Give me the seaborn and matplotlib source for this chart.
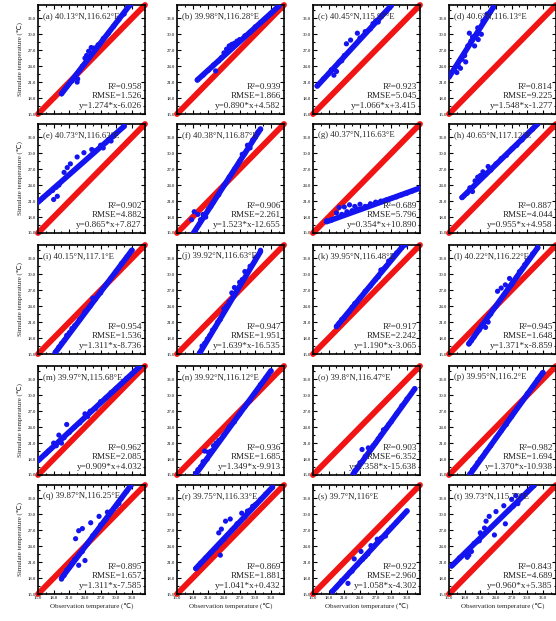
"""Simulated vs observed temperature at 20 sites, 5x4 grid of scatter panels."""

import matplotlib
matplotlib.use("Agg")
import matplotlib.pyplot as plt
import pandas as pd
import seaborn as sns
from matplotlib.ticker import MultipleLocator

# --- panel metadata ------------------------------------------------------
LABELS = list("abcdefghijklmnopqrst")
SITES = ["40.13°N,116.62°E", "39.98°N,116.28°E", "40.45°N,115.97°E", "40.6°N,116.13°E",
         "40.73°N,116.63°E", "40.38°N,116.87°E", "40.37°N,116.63°E", "40.65°N,117.12°E",
         "40.15°N,117.1°E", "39.92°N,116.63°E", "39.95°N,116.48°E", "40.22°N,116.22°E",
         "39.97°N,115.68°E", "39.92°N,116.12°E", "39.8°N,116.47°E", "39.95°N,116.2°E",
         "39.87°N,116.25°E", "39.75°N,116.33°E", "39.7°N,116°E", "39.73°N,115.73°E"]
R2 = [0.958, 0.939, 0.923, 0.814, 0.902, 0.906, 0.689, 0.887, 0.954, 0.947,
      0.917, 0.945, 0.962, 0.936, 0.903, 0.982, 0.895, 0.869, 0.922, 0.843]
RMSE = [1.526, 1.866, 5.045, 9.225, 4.882, 2.261, 5.796, 4.044, 1.536, 1.951,
        2.242, 1.648, 2.085, 1.685, 6.352, 1.694, 1.657, 1.881, 2.960, 4.689]
SLOPE = [1.274, 0.890, 1.066, 1.548, 0.865, 1.523, 0.354, 0.955, 1.311, 1.639,
         1.190, 1.371, 0.909, 1.349, 1.358, 1.370, 1.311, 1.041, 1.058, 0.960]
INTERCEPT = [-6.026, 4.582, 3.415, -1.277, 7.827, -12.655, 10.890, 4.958, -8.736, -16.535,
             -3.065, -8.859, 4.032, -9.913, -15.638, -10.938, -7.585, 0.432, -4.302, 5.385]

a_obs = [19.5, 20.5, 21.5, 22.5, 22.6, 23.0, 23.5, 24.0, 24.3, 24.7, 25.2, 25.8, 26.5, 27.5, 28.5, 29.5, 30.5, 31.5, 32.8]
a_sim = [18.8, 20.1, 21.2, 21.0, 21.6, 23.2, 24.0, 25.5, 26.0, 26.8, 27.5, 27.4, 28.0, 29.2, 30.2, 31.5, 32.8, 33.8, 35.5]
b_obs = [18.9, 20.0, 21.0, 22.0, 22.4, 23.0, 23.5, 24.0, 24.5, 25.0, 25.5, 26.0, 26.5, 27.0, 28.0, 29.0, 30.0, 31.0, 32.0, 33.0, 34.5]
b_sim = [21.4, 22.3, 23.2, 24.2, 23.1, 25.0, 25.6, 26.5, 27.2, 27.8, 28.1, 28.3, 28.7, 29.0, 29.7, 30.4, 31.4, 32.2, 33.0, 33.9, 35.3]
c_obs = [15.8, 17.0, 18.0, 18.5, 19.0, 19.5, 20.0, 20.5, 21.0, 21.4, 22.2, 23.5, 24.0, 25.0, 26.0, 26.5, 27.0, 27.5, 28.0, 28.5, 29.0, 30.0]
c_sim = [20.3, 21.6, 22.6, 23.3, 22.3, 23.0, 24.8, 25.0, 26.0, 28.2, 28.9, 30.2, 29.3, 30.5, 31.0, 32.0, 32.5, 32.3, 33.3, 33.8, 34.2, 35.4]
d_obs = [15.0, 16.0, 16.5, 16.8, 17.2, 17.5, 18.0, 18.2, 18.6, 18.9, 19.2, 19.5, 19.9, 20.3, 20.6, 20.5, 21.2, 21.5, 22.0, 22.3, 22.8, 23.5]
d_sim = [22.0, 23.3, 22.8, 24.0, 23.6, 25.3, 26.0, 24.8, 27.8, 30.2, 28.7, 29.5, 27.8, 29.9, 29.0, 31.2, 30.0, 32.5, 33.0, 33.8, 34.0, 35.0]
e_obs = [15.0, 16.0, 17.0, 17.8, 18.0, 18.5, 18.7, 19.0, 20.0, 20.6, 21.2, 22.5, 23.8, 25.3, 26.0, 27.0, 27.5, 28.0, 28.5, 29.0, 29.5, 30.0, 31.5]
e_sim = [20.8, 21.7, 22.5, 23.0, 21.3, 23.6, 21.9, 24.0, 26.4, 27.3, 28.0, 29.3, 30.1, 30.7, 30.5, 31.5, 31.0, 32.0, 32.5, 32.3, 33.2, 33.7, 35.1]
f_obs = [17.8, 18.3, 18.5, 19.0, 19.5, 20.0, 20.5, 21.0, 21.5, 22.0, 23.0, 24.0, 25.0, 26.0, 27.0, 27.5, 28.0, 28.5, 29.0, 29.5, 30.0, 30.5, 31.0]
f_sim = [17.5, 19.0, 15.3, 18.5, 17.5, 18.5, 18.0, 19.5, 20.0, 20.8, 22.2, 24.0, 25.5, 27.0, 28.5, 29.8, 30.0, 31.5, 31.0, 32.5, 33.0, 34.0, 34.5]
g_obs = [17.6, 18.5, 19.5, 20.0, 20.5, 21.0, 21.5, 22.0, 22.5, 23.0, 23.5, 24.0, 25.0, 26.0, 27.0, 28.0, 29.0, 30.0, 31.0, 32.0, 33.0, 34.0, 35.4]
g_sim = [17.3, 17.4, 18.8, 19.8, 18.5, 19.9, 19.0, 20.3, 19.2, 20.0, 19.5, 20.4, 20.0, 20.5, 20.8, 21.0, 21.2, 21.5, 21.8, 22.2, 22.5, 22.9, 23.4]
h_obs = [17.5, 18.5, 19.0, 19.5, 20.0, 20.5, 21.0, 21.5, 22.0, 22.5, 23.0, 24.0, 25.0, 26.0, 27.0, 28.0, 29.0, 30.0, 31.0, 32.0]
h_sim = [21.7, 22.5, 23.5, 22.8, 24.8, 25.5, 25.8, 26.5, 26.0, 27.5, 26.8, 28.0, 29.0, 29.6, 30.8, 31.5, 32.5, 33.5, 34.5, 35.5]
i_obs = [18.3, 19.0, 19.5, 20.0, 20.5, 21.0, 21.5, 22.0, 23.0, 24.0, 25.0, 25.5, 26.0, 27.0, 28.0, 29.0, 30.0, 31.0, 32.0, 33.0]
i_sim = [15.3, 16.3, 17.0, 17.5, 18.5, 19.0, 19.8, 20.3, 21.5, 23.0, 24.0, 25.5, 25.3, 26.5, 28.0, 29.3, 30.5, 32.0, 33.2, 34.5]
j_obs = [19.3, 19.8, 20.3, 20.8, 21.3, 21.8, 22.3, 22.8, 23.3, 24.0, 24.5, 25.0, 25.5, 26.0, 26.5, 27.0, 27.5, 28.0, 29.0, 30.0, 31.0]
j_sim = [15.2, 16.5, 17.0, 17.8, 18.5, 19.5, 20.0, 21.0, 21.5, 23.5, 24.0, 24.8, 26.5, 27.5, 27.0, 28.5, 29.0, 30.5, 31.5, 33.0, 34.5]
k_obs = [19.5, 20.0, 20.5, 21.0, 21.5, 22.0, 22.5, 23.0, 24.0, 25.0, 26.0, 27.0, 27.5, 28.0, 28.5, 29.0, 29.5, 30.0, 30.5, 31.0, 32.0, 32.8]
k_sim = [20.2, 20.8, 21.5, 21.8, 22.5, 23.0, 23.8, 24.5, 25.5, 26.8, 27.8, 29.0, 29.5, 30.8, 31.0, 31.5, 32.5, 32.8, 33.5, 34.0, 35.0, 35.5]
l_obs = [18.8, 19.3, 19.8, 20.3, 20.8, 21.3, 22.0, 22.5, 23.0, 23.5, 24.0, 24.3, 25.0, 25.8, 26.6, 27.0, 28.0, 28.5, 29.0, 29.5, 30.0, 30.5, 31.0, 32.0]
l_sim = [16.9, 17.5, 18.2, 19.0, 19.5, 20.5, 20.0, 21.0, 22.5, 23.5, 24.0, 26.8, 27.4, 28.0, 29.2, 28.0, 29.5, 30.5, 31.0, 31.8, 32.5, 33.0, 33.8, 35.0]
m_obs = [15.0, 16.5, 17.0, 18.0, 18.5, 19.0, 19.5, 20.0, 20.5, 21.0, 22.0, 23.0, 24.0, 24.5, 25.0, 26.0, 27.0, 28.0, 29.0, 30.0, 31.0, 32.0, 33.0, 34.5]
m_sim = [17.8, 19.0, 19.5, 21.0, 20.5, 22.5, 21.0, 22.0, 24.5, 23.0, 24.0, 24.8, 26.5, 26.0, 27.0, 27.5, 28.8, 29.5, 30.5, 31.3, 32.2, 33.2, 34.0, 35.4]
n_obs = [18.6, 19.0, 19.5, 20.0, 20.3, 20.8, 21.0, 21.5, 22.0, 22.5, 23.0, 24.0, 25.0, 26.0, 27.0, 28.0, 29.0, 30.0, 31.0, 32.0, 33.0]
n_sim = [15.3, 16.0, 16.5, 17.5, 19.5, 18.0, 19.3, 19.5, 20.5, 21.0, 21.5, 22.5, 24.0, 25.0, 26.5, 27.8, 29.0, 30.5, 32.0, 33.2, 34.5]
o_obs = [22.7, 23.0, 23.5, 24.0, 24.4, 24.5, 25.0, 25.6, 26.0, 26.5, 27.0, 27.5, 28.0, 28.5, 29.0, 29.5, 30.0, 31.0, 32.0, 33.0, 34.5]
o_sim = [15.2, 15.8, 16.5, 17.3, 19.8, 17.5, 18.5, 20.1, 19.8, 20.5, 21.0, 21.8, 22.5, 23.5, 23.8, 24.5, 25.0, 26.5, 28.0, 29.3, 31.2]
p_obs = [19.0, 19.5, 20.0, 20.5, 21.0, 21.5, 22.0, 23.0, 24.0, 25.0, 26.0, 27.0, 28.0, 29.0, 30.0, 31.0, 32.0, 33.0]
p_sim = [15.2, 16.0, 16.5, 17.3, 18.0, 18.5, 19.3, 20.5, 22.0, 23.3, 24.5, 26.0, 27.5, 28.8, 30.3, 31.5, 33.0, 34.2]
q_obs = [19.5, 20.0, 20.5, 21.0, 21.5, 22.0, 22.2, 22.8, 22.8, 23.5, 23.5, 24.0, 24.5, 25.1, 25.5, 26.0, 26.7, 27.0, 28.0, 28.3, 29.0, 29.5, 30.0, 30.5, 31.0, 32.0, 32.8]
q_sim = [17.8, 18.5, 19.5, 20.0, 20.8, 21.5, 25.4, 20.4, 26.9, 27.3, 23.0, 21.3, 24.5, 28.4, 26.0, 26.5, 29.6, 28.0, 29.0, 30.4, 30.5, 31.0, 31.5, 32.0, 33.0, 34.3, 35.4]
r_obs = [18.6, 19.5, 20.5, 21.5, 22.5, 23.0, 23.3, 23.5, 24.0, 24.3, 25.2, 25.5, 26.5, 27.4, 28.0, 28.5, 29.0, 29.5, 30.0, 31.0, 32.0, 33.3]
r_sim = [19.8, 20.8, 21.8, 22.8, 23.7, 26.5, 22.3, 27.2, 25.3, 28.7, 29.1, 27.0, 28.2, 30.2, 29.5, 30.6, 30.8, 31.5, 31.8, 32.8, 33.8, 35.1]
s_obs = [18.7, 19.5, 20.5, 21.5, 21.7, 22.0, 22.5, 22.9, 23.5, 24.2, 24.5, 25.0, 25.5, 26.1, 26.5, 27.3, 28.0, 28.9, 29.5, 30.0, 31.0, 32.0, 33.0]
s_sim = [15.5, 16.3, 17.5, 18.3, 17.0, 19.0, 19.3, 21.6, 20.5, 23.0, 21.5, 22.0, 22.5, 24.1, 23.8, 25.3, 25.5, 25.9, 27.0, 27.5, 28.5, 29.5, 30.6]
t_obs = [15.5, 17.0, 18.5, 18.8, 19.3, 19.8, 20.3, 20.8, 21.0, 21.3, 21.8, 22.1, 22.5, 22.7, 23.7, 24.0, 25.5, 25.8, 26.5, 27.0, 27.3, 27.8, 28.2, 29.0, 30.0, 31.3]
t_sim = [20.3, 21.8, 21.9, 22.3, 23.0, 24.5, 24.8, 25.0, 26.5, 26.0, 27.4, 28.7, 27.0, 29.6, 26.1, 30.5, 31.6, 28.2, 30.8, 32.8, 31.5, 33.5, 32.0, 33.5, 34.2, 35.4]

OBS = [a_obs, b_obs, c_obs, d_obs, e_obs, f_obs, g_obs, h_obs, i_obs, j_obs,
       k_obs, l_obs, m_obs, n_obs, o_obs, p_obs, q_obs, r_obs, s_obs, t_obs]
SIM = [a_sim, b_sim, c_sim, d_sim, e_sim, f_sim, g_sim, h_sim, i_sim, j_sim,
       k_sim, l_sim, m_sim, n_sim, o_sim, p_sim, q_sim, r_sim, s_sim, t_sim]

LO, HI = 15.0, 35.5
RED = "#f01414"
BLUE = "#1414f0"

sns.set_style("ticks")
plt.rcParams["font.family"] = ["Liberation Serif", "DejaVu Sans"]

W, H = 556, 621
fig = plt.figure(figsize=(W / 100, H / 100), dpi=100)

col_left = [38, 177, 313, 449]
row_top = [5, 124, 245, 366, 485]
ax_w, ax_h = 107, 109

for k in range(20):
    r, c = divmod(k, 4)
    ax = fig.add_axes([col_left[c] / W, 1 - (row_top[r] + ax_h) / H, ax_w / W, ax_h / H])
    df = pd.DataFrame({"obs": OBS[k], "sim": SIM[k]})

    # 1:1 line
    one = pd.DataFrame({"x": [LO, HI], "y": [LO, HI]})
    sns.lineplot(data=one, x="x", y="y", ax=ax, color=RED, lw=4.2,
                 solid_capstyle="round", clip_on=False, zorder=2)

    # fitted line over the observed range
    x0, x1 = min(OBS[k]), max(OBS[k])
    fit = pd.DataFrame({"x": [x0, x1],
                        "y": [SLOPE[k] * x0 + INTERCEPT[k], SLOPE[k] * x1 + INTERCEPT[k]]})
    sns.lineplot(data=fit, x="x", y="y", ax=ax, color=BLUE, lw=4.0,
                 solid_capstyle="round", zorder=3)
    sns.scatterplot(data=df, x="obs", y="sim", ax=ax, color=BLUE, s=14,
                    edgecolor="none", zorder=4)

    ax.set_xlim(LO, HI)
    ax.set_ylim(LO, HI)
    ax.xaxis.set_major_locator(MultipleLocator(3))
    ax.yaxis.set_major_locator(MultipleLocator(3))
    ax.xaxis.set_minor_locator(MultipleLocator(1.5))
    ax.yaxis.set_minor_locator(MultipleLocator(1.5))
    ax.xaxis.set_major_formatter(lambda v, p: f"{v:.1f}" if v <= 33.5 else "")
    ax.yaxis.set_major_formatter(lambda v, p: f"{v:.1f}" if v <= 33.5 else "")
    ax.tick_params(which="both", direction="in", top=True, right=True,
                   labelsize=3.4, pad=1.5, width=0.8, colors="black")
    ax.tick_params(which="major", length=3)
    ax.tick_params(which="minor", length=1.6)
    for sp in ax.spines.values():
        sp.set_linewidth(1.2)
        sp.set_color("black")

    if r < 4:
        ax.set_xticklabels([])
        ax.set_xlabel("")
    else:
        ax.set_xlabel("Observation temperature (℃)", fontsize=5, labelpad=2)
    if c == 0:
        ax.set_ylabel("Simulate temperature (℃)", fontsize=5, labelpad=3)
    else:
        ax.set_ylabel("")

    ax.text(0.05, 0.90, f"({LABELS[k]}) {SITES[k]}", transform=ax.transAxes,
            fontsize=6.3, ha="left", va="center", zorder=6)
    stats = f"R²={R2[k]:.3f}\nRMSE={RMSE[k]:.3f}\ny={SLOPE[k]:.3f}*x{INTERCEPT[k]:+.3f}"
    ax.text(0.97, 0.04, stats, transform=ax.transAxes, fontsize=6.6,
            ha="right", va="bottom", linespacing=1.25, zorder=6)

fig.savefig("out.png", dpi=100)
